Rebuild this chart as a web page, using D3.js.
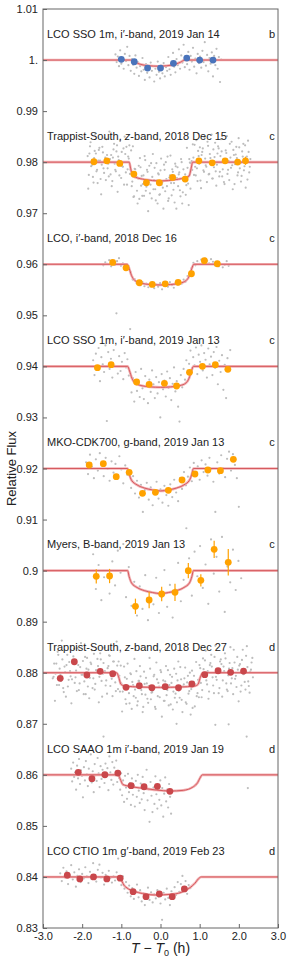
<!DOCTYPE html>
<html>
<head>
<meta charset="utf-8">
<script src="https://cdn.jsdelivr.net/npm/d3@7"></script>
<style>
  body { margin: 0; background: #fff; }
  text { font-family: "Liberation Sans", Arial, Helvetica, sans-serif; fill: #222; }
</style>
</head>
<body>
<svg id="vis_lc" width="291" height="961"></svg>
<script>
// light curves of the three planets, stacked with offsets

// panel texts, planet letter and flat level of each panel
var panelLabels = [
  "LCO SSO 1m, i\u2032-band, 2019 Jan 14",
  "Trappist-South, |z|-band, 2018 Dec 15",
  "LCO, i\u2032-band, 2018 Dec 16",
  "LCO SSO 1m, i\u2032-band, 2019 Jan 13",
  "MKO-CDK700, g-band, 2019 Jan 13",
  "Myers, B-band, 2019 Jan 13",
  "Trappist-South, |z|-band, 2018 Dec 27",
  "LCO SAAO 1m i\u2032-band, 2019 Jan 19",
  "LCO CTIO 1m g\u2032-band, 2019 Feb 23"
];
var panelPlanets = ["b", "c", "c", "c", "c", "c", "d", "d", "d"];
var panelLevels = [1.0, 0.98, 0.96, 0.94, 0.92, 0.90, 0.88, 0.86, 0.84];

var xTicks = [-3, -2, -1, 0, 1, 2, 3];
var yTicks = [0.83, 0.84, 0.85, 0.86, 0.87, 0.88, 0.89, 0.90, 0.91, 0.92, 0.93, 0.94, 0.95, 0.96, 0.97, 0.98, 0.99, 1.00, 1.01];
var yTickLabels = ["0.83", "0.84", "0.85", "0.86", "0.87", "0.88", "0.89", "0.9", "0.91", "0.92", "0.93", "0.94", "0.95", "0.96", "0.97", "0.98", "0.99", "1.", "1.01"];

// unbinned photometry [time, flux]
var rawB14 = [[-1.15,1.0011],[-1.12,0.9996],[-1.09,1.0007],[-1.06,0.9988],[-1.03,1.0019],[-1.00,0.9993],[-0.97,1.0004],[-0.94,0.9983],[-0.91,1.0012],[-0.88,0.9998],[-0.85,1.0026],[-0.82,0.9990],[-0.79,1.0008],[-0.76,0.9979],[-0.73,1.0002],[-0.70,0.9991],[-0.67,0.9973],[-0.64,1.0009],[-0.61,0.9985],[-0.58,0.9996],[-0.55,0.9969],[-0.52,0.9988],[-0.49,0.9978],[-0.46,1.0004],[-0.43,0.9981],[-0.40,0.9961],[-0.37,0.9992],[-0.34,0.9975],[-0.31,0.9986],[-0.28,0.9966],[-0.25,0.9995],[-0.22,0.9979],[-0.19,0.9988],[-0.16,0.9958],[-0.13,0.9983],[-0.10,0.9971],[-0.07,0.9997],[-0.04,0.9977],[-0.01,0.9964],[0.02,0.9989],[0.05,0.9974],[0.08,0.9994],[0.11,0.9968],[0.14,0.9986],[0.17,0.9979],[0.20,1.0006],[0.23,0.9982],[0.26,0.9971],[0.29,0.9993],[0.32,1.0014],[0.35,0.9987],[0.38,0.9976],[0.41,1.0002],[0.44,0.9990],[0.47,1.0021],[0.50,0.9983],[0.53,1.0009],[0.56,0.9995],[0.59,1.0030],[0.62,0.9986],[0.65,1.0005],[0.68,0.9992],[0.71,1.0016],[0.74,0.9981],[0.77,1.0008],[0.80,0.9997],[0.83,1.0024],[0.86,0.9987],[0.89,1.0003],[0.92,0.9974],[0.95,1.0012],[0.98,0.9994],[1.01,1.0007],[1.04,0.9985],[1.07,1.0018],[1.10,0.9996],[1.13,1.0035],[1.16,0.9989],[1.19,1.0010],[1.22,0.9978],[1.25,1.0004],[1.28,0.9993],[1.31,1.0015],[1.34,0.9968],[1.37,1.0008],[1.40,0.9990],[1.43,1.0022],[1.46,0.9983],[1.49,1.0006],[1.52,0.9957],[1.55,1.0001]];

var rawC15 = [[-1.86,0.9812],[-1.83,0.9775],[-1.80,0.9831],[-1.77,0.9792],[-1.74,0.9804],[-1.71,0.9760],[-1.68,0.9822],[-1.65,0.9817],[-1.62,0.9785],[-1.59,0.9803],[-1.56,0.9828],[-1.53,0.9767],[-1.50,0.9795],[-1.47,0.9819],[-1.44,0.9779],[-1.41,0.9809],[-1.38,0.9845],[-1.35,0.9788],[-1.32,0.9772],[-1.29,0.9806],[-1.26,0.9814],[-1.23,0.9763],[-1.20,0.9825],[-1.17,0.9797],[-1.14,0.9782],[-1.11,0.9833],[-1.08,0.9811],[-1.05,0.9774],[-1.02,0.9802],[-0.99,0.9820],[-0.96,0.9791],[-0.93,0.9756],[-0.90,0.9816],[-0.87,0.9830],[-0.84,0.9786],[-0.81,0.9807],[-0.78,0.9777],[-0.75,0.9823],[-0.72,0.9762],[-0.69,0.9732],[-0.66,0.9787],[-0.63,0.9776],[-0.60,0.9744],[-0.57,0.9768],[-0.54,0.9728],[-0.51,0.9790],[-0.48,0.9773],[-0.45,0.9757],[-0.42,0.9734],[-0.39,0.9804],[-0.36,0.9752],[-0.33,0.9781],[-0.30,0.9761],[-0.27,0.9739],[-0.24,0.9798],[-0.21,0.9771],[-0.18,0.9747],[-0.15,0.9789],[-0.12,0.9725],[-0.09,0.9764],[-0.06,0.9778],[-0.03,0.9736],[0.00,0.9784],[0.03,0.9756],[0.06,0.9750],[0.09,0.9795],[0.12,0.9743],[0.15,0.9767],[0.18,0.9811],[0.21,0.9729],[0.24,0.9774],[0.27,0.9759],[0.30,0.9786],[0.33,0.9746],[0.36,0.9721],[0.39,0.9792],[0.42,0.9769],[0.45,0.9753],[0.48,0.9780],[0.51,0.9733],[0.54,0.9800],[0.57,0.9741],[0.60,0.9763],[0.63,0.9776],[0.66,0.9755],[0.69,0.9789],[0.72,0.9716],[0.75,0.9799],[0.78,0.9798],[0.81,0.9785],[0.84,0.9809],[0.87,0.9834],[0.90,0.9774],[0.93,0.9788],[0.96,0.9822],[0.99,0.9797],[1.02,0.9764],[1.05,0.9814],[1.08,0.9827],[1.11,0.9781],[1.14,0.9807],[1.17,0.9791],[1.20,0.9840],[1.23,0.9776],[1.26,0.9816],[1.29,0.9799],[1.32,0.9768],[1.35,0.9825],[1.38,0.9810],[1.41,0.9782],[1.44,0.9795],[1.47,0.9831],[1.50,0.9772],[1.53,0.9812],[1.56,0.9821],[1.59,0.9786],[1.62,0.9761],[1.65,0.9806],[1.68,0.9818],[1.71,0.9777],[1.74,0.9802],[1.77,0.9836],[1.80,0.9789],[1.83,0.9794],[1.86,0.9824],[1.89,0.9757],[1.92,0.9815],[1.95,0.9808],[1.98,0.9780],[2.01,0.9829],[2.04,0.9798],[2.07,0.9773],[2.10,0.9811],[2.13,0.9784],[2.16,0.9833],[2.19,0.9804],[2.22,0.9766],[2.25,0.9820],[2.28,0.9791]];

var rawC15more = [[-1.845,0.9748],[-1.815,0.9817],[-1.785,0.9839],[-1.755,0.9794],[-1.725,0.9771],[-1.695,0.9808],[-1.665,0.9855],[-1.635,0.9782],[-1.605,0.9759],[-1.575,0.9824],[-1.545,0.9803],[-1.515,0.9737],[-1.485,0.9830],[-1.455,0.9788],[-1.425,0.9847],[-1.395,0.9765],[-1.365,0.9814],[-1.335,0.9797],[-1.305,0.9860],[-1.275,0.9776],[-1.245,0.9753],[-1.215,0.9809],[-1.185,0.9836],[-1.155,0.9785],[-1.125,0.9821],[-1.095,0.9742],[-1.065,0.9804],[-1.035,0.9842],[-1.005,0.9769],[-0.975,0.9792],[-0.945,0.9827],[-0.915,0.9850],[-0.885,0.9780],[-0.855,0.9756],[-0.825,0.9811],[-0.795,0.9833],[-0.765,0.9785],[-0.735,0.9753],[-0.705,0.9831],[-0.675,0.9733],[-0.645,0.9786],[-0.615,0.9771],[-0.585,0.9719],[-0.555,0.9793],[-0.525,0.9808],[-0.495,0.9754],[-0.465,0.9734],[-0.435,0.9774],[-0.405,0.9812],[-0.375,0.9744],[-0.345,0.9785],[-0.315,0.9704],[-0.285,0.9793],[-0.255,0.9756],[-0.225,0.9729],[-0.195,0.9816],[-0.165,0.9765],[-0.135,0.9747],[-0.105,0.9798],[-0.075,0.9719],[-0.045,0.9776],[-0.015,0.9737],[0.015,0.9807],[0.045,0.9760],[0.075,0.9709],[0.105,0.9785],[0.135,0.9800],[0.165,0.9753],[0.195,0.9724],[0.225,0.9770],[0.255,0.9813],[0.285,0.9735],[0.315,0.9781],[0.345,0.9759],[0.375,0.9797],[0.405,0.9709],[0.435,0.9790],[0.465,0.9776],[0.495,0.9745],[0.525,0.9806],[0.555,0.9719],[0.585,0.9786],[0.615,0.9767],[0.645,0.9736],[0.675,0.9828],[0.705,0.9758],[0.735,0.9806],[0.765,0.9748],[0.795,0.9802],[0.825,0.9835],[0.855,0.9775],[0.885,0.9791],[0.915,0.9843],[0.945,0.9763],[0.975,0.9812],[1.005,0.9829],[1.035,0.9749],[1.065,0.9820],[1.095,0.9784],[1.125,0.9848],[1.155,0.9794],[1.185,0.9761],[1.215,0.9832],[1.245,0.9777],[1.275,0.9808],[1.305,0.9854],[1.335,0.9768],[1.365,0.9790],[1.395,0.9838],[1.425,0.9754],[1.455,0.9817],[1.485,0.9827],[1.515,0.9781],[1.545,0.9845],[1.575,0.9772],[1.605,0.9803],[1.635,0.9757],[1.665,0.9823],[1.695,0.9851],[1.725,0.9785],[1.755,0.9765],[1.785,0.9809],[1.815,0.9840],[1.845,0.9747],[1.875,0.9814],[1.905,0.9796],[1.935,0.9830],[1.965,0.9774],[1.995,0.9847],[2.025,0.9788],[2.055,0.9762],[2.085,0.9821],[2.115,0.9836],[2.145,0.9792],[2.175,0.9750],[2.205,0.9811],[2.235,0.9842],[2.265,0.9780],[2.295,0.9806]];

var rawC16 = [[-1.46,0.9598],[-1.41,0.9604],[-1.36,0.9601],[-1.31,0.9608],[-1.26,0.9596],[-1.21,0.9603],[-1.16,0.9599],[-1.11,0.9606],[-1.06,0.9612],[-1.01,0.9597],[-0.96,0.9602],[-0.91,0.9594],[-0.86,0.9600],[-0.81,0.9596],[-0.76,0.9584],[-0.71,0.9570],[-0.66,0.9571],[-0.61,0.9563],[-0.56,0.9567],[-0.51,0.9559],[-0.46,0.9565],[-0.41,0.9557],[-0.36,0.9562],[-0.31,0.9555],[-0.26,0.9561],[-0.21,0.9564],[-0.16,0.9553],[-0.11,0.9560],[-0.06,0.9556],[-0.01,0.9563],[0.04,0.9551],[0.09,0.9558],[0.14,0.9562],[0.19,0.9556],[0.24,0.9565],[0.29,0.9559],[0.34,0.9554],[0.39,0.9563],[0.44,0.9560],[0.49,0.9567],[0.54,0.9562],[0.59,0.9570],[0.64,0.9566],[0.69,0.9577],[0.74,0.9582],[0.79,0.9592],[0.84,0.9603],[0.89,0.9598],[0.94,0.9606],[0.99,0.9601],[1.04,0.9609],[1.09,0.9604],[1.14,0.9611],[1.19,0.9607],[1.24,0.9602],[1.29,0.9610],[1.34,0.9605],[1.39,0.9598],[1.44,0.9603],[1.49,0.9596],[1.54,0.9601],[1.59,0.9594],[1.64,0.9599],[1.69,0.9606],[1.74,0.9597]];

var rawC13i = [[-1.72,0.9412],[-1.685,0.9383],[-1.65,0.9425],[-1.615,0.9397],[-1.58,0.9436],[-1.545,0.9371],[-1.51,0.9418],[-1.475,0.9404],[-1.44,0.9389],[-1.405,0.9441],[-1.37,0.9293],[-1.335,0.9428],[-1.30,0.9395],[-1.265,0.9415],[-1.23,0.9378],[-1.195,0.9432],[-1.16,0.9401],[-1.125,0.9504],[-1.09,0.9386],[-1.055,0.9420],[-1.02,0.9391],[-0.985,0.9409],[-0.95,0.9375],[-0.915,0.9426],[-0.88,0.9398],[-0.845,0.9414],[-0.81,0.9382],[-0.775,0.9473],[-0.74,0.9349],[-0.705,0.9377],[-0.67,0.9331],[-0.635,0.9389],[-0.60,0.9352],[-0.565,0.9368],[-0.53,0.9340],[-0.495,0.9395],[-0.46,0.9357],[-0.425,0.9336],[-0.39,0.9381],[-0.355,0.9362],[-0.32,0.9328],[-0.285,0.9374],[-0.25,0.9350],[-0.215,0.9392],[-0.18,0.9365],[-0.145,0.9338],[-0.11,0.9379],[-0.075,0.9347],[-0.04,0.9369],[-0.005,0.9300],[0.03,0.9385],[0.065,0.9355],[0.10,0.9372],[0.135,0.9341],[0.17,0.9390],[0.205,0.9358],[0.24,0.9377],[0.275,0.9334],[0.31,0.9366],[0.345,0.9398],[0.38,0.9351],[0.415,0.9371],[0.45,0.9321],[0.485,0.9292],[0.52,0.9383],[0.555,0.9359],[0.59,0.9395],[0.625,0.9374],[0.66,0.9412],[0.695,0.9388],[0.73,0.9405],[0.765,0.9431],[0.80,0.9396],[0.835,0.9418],[0.87,0.9402],[0.905,0.9437],[0.94,0.9385],[0.975,0.9423],[1.01,0.9409],[1.045,0.9441],[1.08,0.9392],[1.115,0.9426],[1.15,0.9413],[1.185,0.9378],[1.22,0.9435],[1.255,0.9404],[1.29,0.9419],[1.325,0.9383],[1.36,0.9428],[1.395,0.9397],[1.43,0.9438],[1.465,0.9365],[1.50,0.9411],[1.535,0.9389],[1.57,0.9422],[1.605,0.9354],[1.64,0.9403],[1.675,0.9338],[1.71,0.9416],[1.745,0.9391],[1.78,0.9432]];

var rawC13g = [[-1.90,0.9212],[-1.85,0.9189],[-1.80,0.9227],[-1.75,0.9203],[-1.70,0.9181],[-1.65,0.9218],[-1.60,0.9196],[-1.55,0.9230],[-1.50,0.9207],[-1.45,0.9185],[-1.40,0.9221],[-1.35,0.9199],[-1.30,0.9176],[-1.25,0.9214],[-1.20,0.9192],[-1.15,0.9209],[-1.10,0.9183],[-1.05,0.9224],[-1.00,0.9198],[-0.95,0.9171],[-0.90,0.9206],[-0.85,0.9188],[-0.80,0.9197],[-0.75,0.9162],[-0.70,0.9185],[-0.65,0.9151],[-0.60,0.9176],[-0.55,0.9143],[-0.50,0.9168],[-0.45,0.9115],[-0.40,0.9158],[-0.35,0.9172],[-0.30,0.9139],[-0.25,0.9163],[-0.20,0.9128],[-0.15,0.9150],[-0.10,0.9174],[-0.05,0.9141],[0.00,0.9159],[0.05,0.9133],[0.10,0.9166],[0.15,0.9148],[0.20,0.9127],[0.25,0.9169],[0.30,0.9144],[0.35,0.9178],[0.40,0.9153],[0.45,0.9136],[0.50,0.9181],[0.55,0.9160],[0.60,0.9193],[0.65,0.9167],[0.70,0.9184],[0.75,0.9202],[0.80,0.9175],[0.85,0.9211],[0.90,0.9189],[0.95,0.9204],[1.00,0.9178],[1.05,0.9216],[1.10,0.9193],[1.15,0.9208],[1.20,0.9186],[1.25,0.9221],[1.30,0.9199],[1.35,0.9174],[1.40,0.9115],[1.45,0.9212],[1.50,0.9190],[1.55,0.9226],[1.60,0.9201],[1.65,0.9183],[1.70,0.9219],[1.75,0.9233],[1.80,0.9196],[1.85,0.9228],[1.90,0.9207],[1.95,0.9181],[2.00,0.9125]];

var rawC13B = [[-1.72,0.9032],[-1.65,0.8964],[-1.58,0.9011],[-1.51,0.8942],[-1.44,0.8987],[-1.37,0.9046],[-1.30,0.8955],[-1.23,0.9018],[-1.16,0.8971],[-1.09,0.9039],[-1.02,0.8996],[-0.95,0.9052],[-0.88,0.8948],[-0.81,0.9007],[-0.74,0.8931],[-0.67,0.8978],[-0.60,0.8912],[-0.53,0.8969],[-0.46,0.8925],[-0.39,0.8991],[-0.32,0.8903],[-0.25,0.8958],[-0.18,0.8934],[-0.11,0.8986],[-0.04,0.8917],[0.03,0.8949],[0.10,0.9001],[0.17,0.8929],[0.24,0.8972],[0.31,0.8908],[0.38,0.8963],[0.45,0.9015],[0.52,0.8940],[0.59,0.8982],[0.66,0.9083],[0.73,0.9024],[0.80,0.8951],[0.87,0.9037],[0.94,0.8989],[1.01,0.9048],[1.08,0.8966],[1.15,0.9012],[1.22,0.8935],[1.29,0.9061],[1.36,0.8994],[1.43,0.9027],[1.50,0.8959],[1.57,0.9066],[1.64,0.8919],[1.71,0.9008],[1.78,0.8977],[1.85,0.9041],[1.92,0.8962],[1.99,0.9019],[2.06,0.8985]];

var rawD27 = [[-2.75,0.8789],[-2.715,0.8818],[-2.68,0.8798],[-2.645,0.8776],[-2.61,0.8835],[-2.575,0.8808],[-2.54,0.8784],[-2.505,0.8826],[-2.47,0.8762],[-2.435,0.8801],[-2.40,0.8815],[-2.365,0.8773],[-2.33,0.8821],[-2.295,0.8793],[-2.26,0.8787],[-2.225,0.8832],[-2.19,0.8780],[-2.155,0.8804],[-2.12,0.8848],[-2.085,0.8766],[-2.05,0.8811],[-2.015,0.8796],[-1.98,0.8823],[-1.945,0.8783],[-1.91,0.8758],[-1.875,0.8829],[-1.84,0.8806],[-1.805,0.8790],[-1.77,0.8817],[-1.735,0.8770],[-1.70,0.8837],[-1.665,0.8778],[-1.63,0.8800],[-1.595,0.8813],[-1.56,0.8792],[-1.525,0.8826],[-1.49,0.8753],[-1.455,0.8819],[-1.42,0.8803],[-1.385,0.8785],[-1.35,0.8809],[-1.315,0.8834],[-1.28,0.8774],[-1.245,0.8788],[-1.21,0.8822],[-1.175,0.8797],[-1.14,0.8764],[-1.105,0.8814],[-1.07,0.8822],[-1.035,0.8763],[-1.00,0.8779],[-0.965,0.8763],[-0.93,0.8812],[-0.895,0.8748],[-0.86,0.8788],[-0.825,0.8771],[-0.79,0.8740],[-0.755,0.8797],[-0.72,0.8782],[-0.685,0.8754],[-0.65,0.8767],[-0.615,0.8803],[-0.58,0.8744],[-0.545,0.8784],[-0.51,0.8793],[-0.475,0.8758],[-0.44,0.8733],[-0.405,0.8778],[-0.37,0.8790],[-0.335,0.8749],[-0.30,0.8774],[-0.265,0.8808],[-0.23,0.8761],[-0.195,0.8766],[-0.16,0.8796],[-0.125,0.8729],[-0.09,0.8787],[-0.055,0.8780],[-0.02,0.8752],[0.015,0.8801],[0.05,0.8770],[0.085,0.8745],[0.12,0.8783],[0.155,0.8756],[0.19,0.8805],[0.225,0.8776],[0.26,0.8738],[0.295,0.8792],[0.33,0.8763],[0.365,0.8751],[0.40,0.8798],[0.435,0.8785],[0.47,0.8765],[0.505,0.8811],[0.54,0.8747],[0.575,0.8773],[0.61,0.8789],[0.645,0.8742],[0.68,0.8781],[0.715,0.8759],[0.75,0.8800],[0.785,0.8768],[0.82,0.8731],[0.855,0.8794],[0.89,0.8777],[0.925,0.8754],[0.96,0.8786],[0.995,0.8815],[1.03,0.8780],[1.065,0.8766],[1.10,0.8807],[1.135,0.8824],[1.17,0.8785],[1.205,0.8803],[1.24,0.8763],[1.275,0.8819],[1.31,0.8812],[1.345,0.8775],[1.38,0.8831],[1.415,0.8792],[1.45,0.8804],[1.485,0.8760],[1.52,0.8822],[1.555,0.8817],[1.59,0.8785],[1.625,0.8803],[1.66,0.8828],[1.695,0.8767],[1.73,0.8795],[1.765,0.8819],[1.80,0.8779],[1.835,0.8809],[1.87,0.8845],[1.905,0.8788],[1.94,0.8772],[1.975,0.8806],[2.01,0.8814],[2.045,0.8763],[2.08,0.8825],[2.115,0.8797],[2.15,0.8782],[2.185,0.8833],[2.22,0.8811],[2.255,0.8774],[2.29,0.8802],[2.325,0.8820],[2.36,0.8791],[0.41,0.8700],[1.40,0.8698],[1.74,0.8699],[2.20,0.8675]];

var rawD27more = [[-2.73,0.8792],[-2.695,0.8745],[-2.66,0.8818],[-2.625,0.8841],[-2.59,0.8776],[-2.555,0.8797],[-2.52,0.8863],[-2.485,0.8770],[-2.45,0.8812],[-2.415,0.8753],[-2.38,0.8835],[-2.345,0.8786],[-2.31,0.8803],[-2.275,0.8740],[-2.24,0.8824],[-2.205,0.8847],[-2.17,0.8791],[-2.135,0.8764],[-2.10,0.8815],[-2.065,0.8779],[-2.03,0.8858],[-1.995,0.8796],[-1.96,0.8758],[-1.925,0.8831],[-1.89,0.8808],[-1.855,0.8773],[-1.82,0.8750],[-1.785,0.8820],[-1.75,0.8844],[-1.715,0.8789],[-1.68,0.8767],[-1.645,0.8805],[-1.61,0.8827],[-1.575,0.8742],[-1.54,0.8838],[-1.505,0.8784],[-1.47,0.8798],[-1.435,0.8849],[-1.40,0.8775],[-1.365,0.8759],[-1.33,0.8813],[-1.295,0.8833],[-1.26,0.8793],[-1.225,0.8754],[-1.19,0.8822],[-1.155,0.8781],[-1.12,0.8861],[-1.085,0.8768],[-1.05,0.8794],[-1.015,0.8814],[-0.98,0.8724],[-0.945,0.8774],[-0.91,0.8791],[-0.875,0.8739],[-0.84,0.8818],[-0.805,0.8760],[-0.77,0.8799],[-0.735,0.8729],[-0.70,0.8776],[-0.665,0.8827],[-0.63,0.8751],[-0.595,0.8736],[-0.56,0.8784],[-0.525,0.8813],[-0.49,0.8766],[-0.455,0.8723],[-0.42,0.8802],[-0.385,0.8757],[-0.35,0.8779],[-0.315,0.8741],[-0.28,0.8829],[-0.245,0.8748],[-0.21,0.8762],[-0.175,0.8793],[-0.14,0.8733],[-0.105,0.8820],[-0.07,0.8754],[-0.035,0.8773],[0.00,0.8805],[0.035,0.8714],[0.07,0.8785],[0.105,0.8745],[0.14,0.8813],[0.175,0.8766],[0.21,0.8736],[0.245,0.8796],[0.28,0.8780],[0.315,0.8728],[0.35,0.8808],[0.385,0.8759],[0.42,0.8742],[0.455,0.8822],[0.49,0.8751],[0.525,0.8787],[0.56,0.8723],[0.595,0.8777],[0.63,0.8810],[0.665,0.8739],[0.70,0.8794],[0.735,0.8764],[0.77,0.8718],[0.805,0.8804],[0.84,0.8782],[0.875,0.8734],[0.91,0.8821],[0.945,0.8760],[0.98,0.8752],[1.015,0.8809],[1.05,0.8752],[1.085,0.8828],[1.12,0.8797],[1.155,0.8843],[1.19,0.8777],[1.225,0.8749],[1.26,0.8815],[1.295,0.8835],[1.33,0.8791],[1.365,0.8760],[1.40,0.8853],[1.435,0.8786],[1.47,0.8804],[1.505,0.8770],[1.54,0.8826],[1.575,0.8753],[1.61,0.8812],[1.645,0.8838],[1.68,0.8779],[1.715,0.8764],[1.75,0.8808],[1.785,0.8850],[1.82,0.8789],[1.855,0.8758],[1.89,0.8820],[1.925,0.8794],[1.96,0.8831],[1.995,0.8744],[2.03,0.8817],[2.065,0.8775],[2.10,0.8845],[2.135,0.8798],[2.17,0.8767],[2.205,0.8852],[2.24,0.8783],[2.275,0.8761],[2.31,0.8806],[2.345,0.8829]];

var rawD19 = [[-2.28,0.8612],[-2.255,0.8587],[-2.23,0.8624],[-2.205,0.8596],[-2.18,0.8605],[-2.155,0.8571],[-2.13,0.8618],[-2.105,0.8593],[-2.08,0.8631],[-2.055,0.8582],[-2.03,0.8609],[-2.005,0.8598],[-1.98,0.8556],[-1.955,0.8615],[-1.93,0.8589],[-1.905,0.8627],[-1.88,0.8601],[-1.855,0.8578],[-1.83,0.8612],[-1.805,0.8594],[-1.78,0.8640],[-1.755,0.8585],[-1.73,0.8607],[-1.705,0.8566],[-1.68,0.8621],[-1.655,0.8599],[-1.63,0.8588],[-1.605,0.8633],[-1.58,0.8603],[-1.555,0.8576],[-1.53,0.8617],[-1.505,0.8592],[-1.48,0.8610],[-1.455,0.8675],[-1.43,0.8584],[-1.405,0.8622],[-1.38,0.8597],[-1.355,0.8613],[-1.33,0.8570],[-1.305,0.8636],[-1.28,0.8605],[-1.255,0.8590],[-1.23,0.8625],[-1.205,0.8581],[-1.18,0.8614],[-1.155,0.8599],[-1.13,0.8628],[-1.105,0.8586],[-1.08,0.8608],[-1.055,0.8594],[-1.03,0.8571],[-1.005,0.8603],[-0.98,0.8560],[-0.955,0.8589],[-0.93,0.8547],[-0.905,0.8598],[-0.88,0.8575],[-0.855,0.8553],[-0.83,0.8602],[-0.805,0.8566],[-0.78,0.8584],[-0.755,0.8541],[-0.73,0.8593],[-0.705,0.8561],[-0.68,0.8579],[-0.655,0.8538],[-0.63,0.8588],[-0.605,0.8557],[-0.58,0.8600],[-0.555,0.8569],[-0.53,0.8545],[-0.505,0.8583],[-0.48,0.8552],[-0.455,0.8596],[-0.43,0.8564],[-0.405,0.8531],[-0.38,0.8578],[-0.355,0.8610],[-0.33,0.8550],[-0.305,0.8572],[-0.28,0.8508],[-0.255,0.8586],[-0.23,0.8559],[-0.205,0.8527],[-0.18,0.8575],[-0.155,0.8543],[-0.13,0.8597],[-0.105,0.8562],[-0.08,0.8534],[-0.055,0.8580],[-0.03,0.8551],[-0.005,0.8589],[0.02,0.8540],[0.045,0.8574],[0.07,0.8518],[0.095,0.8563],[0.12,0.8595],[0.145,0.8548],[0.17,0.8571],[0.195,0.8536],[0.22,0.8582],[0.245,0.8557],[0.27,0.8524],[0.295,0.8566],[2.23,0.8574]];

var rawD23 = [[-2.56,0.8407],[-2.52,0.8392],[-2.48,0.8418],[-2.44,0.8399],[-2.40,0.8411],[-2.36,0.8386],[-2.32,0.8404],[-2.28,0.8423],[-2.24,0.8395],[-2.20,0.8409],[-2.16,0.8381],[-2.12,0.8402],[-2.08,0.8415],[-2.04,0.8390],[-2.00,0.8406],[-1.96,0.8397],[-1.92,0.8419],[-1.88,0.8401],[-1.84,0.8388],[-1.80,0.8410],[-1.76,0.8396],[-1.72,0.8427],[-1.68,0.8403],[-1.64,0.8391],[-1.60,0.8414],[-1.56,0.8424],[-1.52,0.8399],[-1.48,0.8408],[-1.44,0.8385],[-1.40,0.8404],[-1.36,0.8395],[-1.32,0.8412],[-1.28,0.8398],[-1.24,0.8389],[-1.20,0.8401],[-1.16,0.8393],[-1.12,0.8409],[-1.08,0.8436],[-1.04,0.8397],[-1.00,0.8384],[-0.96,0.8401],[-0.92,0.8377],[-0.88,0.8390],[-0.84,0.8369],[-0.80,0.8383],[-0.76,0.8362],[-0.72,0.8378],[-0.68,0.8357],[-0.64,0.8371],[-0.60,0.8385],[-0.56,0.8360],[-0.52,0.8374],[-0.48,0.8352],[-0.44,0.8368],[-0.40,0.8345],[-0.36,0.8363],[-0.32,0.8379],[-0.28,0.8355],[-0.24,0.8370],[-0.20,0.8350],[-0.16,0.8366],[-0.12,0.8358],[-0.08,0.8374],[-0.04,0.8361],[0.00,0.8348],[0.04,0.8316],[0.08,0.8369],[0.12,0.8356],[0.16,0.8377],[0.20,0.8359],[0.24,0.8345],[0.28,0.8372],[0.32,0.8361],[0.36,0.8380],[0.40,0.8365],[0.44,0.8390],[0.48,0.8371],[0.52,0.8386],[0.56,0.8402],[0.60,0.8376],[0.64,0.8392],[0.68,0.8367],[0.72,0.8384],[0.76,0.8378]];

// binned photometry [time, flux, error]
var binB14 = [[-1.00,1.00014,0.0003],[-0.67,0.99967,0.0003],[-0.33,0.99843,0.0003],[0.00,0.99843,0.0003],[0.33,0.99935,0.0003],[0.67,1.00039,0.0003],[1.00,1.0,0.0003],[1.34,1.0,0.0003]];
var binC15 = [[-1.70,0.98008,0.0004],[-1.37,0.98027,0.0004],[-1.04,0.97976,0.0004],[-0.68,0.97767,0.0004],[-0.36,0.97597,0.0004],[-0.03,0.97597,0.0004],[0.31,0.97702,0.0004],[0.63,0.97669,0.0004],[0.98,0.98027,0.0004],[1.32,0.97988,0.0004],[1.65,0.98027,0.0004],[1.97,0.98002,0.0004],[2.17,0.98027,0.0008]];
var binC16 = [[-1.22,0.96037,0.0003],[-0.88,0.95931,0.0003],[-0.54,0.95638,0.0003],[-0.21,0.95606,0.0003],[0.12,0.95618,0.0003],[0.45,0.95646,0.0003],[0.79,0.95814,0.0003],[1.12,0.96069,0.0003],[1.45,0.9601,0.0003]];
var binC13i = [[-1.61,0.93975,0.0005],[-1.26,0.94033,0.0005],[-0.61,0.93694,0.0005],[-0.29,0.93649,0.0005],[0.10,0.93669,0.0005],[0.41,0.93616,0.0005],[0.74,0.93884,0.0005],[1.07,0.94002,0.0005],[1.40,0.94033,0.0005],[1.72,0.93943,0.0005]];
var binC13g = [[-1.82,0.92069,0.0005],[-1.46,0.92094,0.0005],[-1.13,0.91839,0.0005],[-0.80,0.91926,0.0005],[-0.46,0.91514,0.0005],[-0.13,0.91534,0.0005],[0.20,0.91573,0.0005],[0.55,0.91775,0.0005],[0.88,0.91892,0.0005],[1.21,0.91971,0.0005],[1.53,0.91957,0.0005],[1.86,0.9218,0.0005]];
var binC13B = [[-1.64,0.89888,0.0014],[-1.30,0.89894,0.0014],[-0.64,0.89301,0.0015],[-0.29,0.89424,0.0016],[0.03,0.89542,0.0014],[0.37,0.89575,0.0017],[0.71,0.89998,0.0015],[1.03,0.8981,0.0012],[1.37,0.90417,0.0017],[1.73,0.90163,0.0026]];
var binD27 = [[-2.56,0.8789,0.0004],[-2.20,0.88215,0.0004],[-1.88,0.87955,0.0004],[-1.54,0.88027,0.0004],[-1.22,0.8798,0.0004],[-0.88,0.87714,0.0004],[-0.54,0.87745,0.0004],[-0.22,0.87706,0.0004],[0.12,0.87726,0.0004],[0.46,0.87706,0.0004],[0.80,0.87779,0.0004],[1.13,0.87961,0.0004],[1.47,0.88039,0.0004],[1.79,0.88008,0.0004],[2.12,0.88033,0.0004]];
var binD19 = [[-2.10,0.86049,0.0004],[-1.75,0.85924,0.0004],[-1.42,0.86002,0.0004],[-1.09,0.86035,0.0004],[-0.75,0.85787,0.0004],[-0.42,0.85767,0.0004],[-0.08,0.85775,0.0004],[0.24,0.85677,0.0004]];
var binD23 = [[-2.38,0.84033,0.0003],[-2.06,0.83961,0.0003],[-1.71,0.84,0.0003],[-1.37,0.83961,0.0003],[-1.03,0.83975,0.0003],[-0.70,0.83712,0.0003],[-0.37,0.83614,0.0003],[-0.03,0.83667,0.0003],[0.30,0.83614,0.0003],[0.61,0.83765,0.0003]];

// transit model curves [time, flux]
var modelB14 = [[-3,1],[-0.76,1],[-0.66,0.99962],[-0.52,0.99918],[-0.3,0.99888],[-0.07,0.9988],[0.16,0.99888],[0.38,0.99918],[0.52,0.99962],[0.62,1],[3,1]];
var modelC15 = [[-3,0.98],[-0.8,0.98],[-0.76,0.9787],[-0.71,0.9773],[-0.64,0.97705],[-0.4,0.9766],[0,0.97632],[0.4,0.9766],[0.66,0.97705],[0.73,0.9773],[0.78,0.9787],[0.82,0.98],[3,0.98]];
var modelC16 = [[-3,0.96],[-0.85,0.96],[-0.8,0.9592],[-0.74,0.9578],[-0.66,0.95685],[-0.5,0.9563],[-0.25,0.95603],[0,0.95595],[0.25,0.95603],[0.5,0.9563],[0.66,0.95685],[0.74,0.9578],[0.8,0.9592],[0.85,0.96],[3,0.96]];
var modelC13i = [[-3,0.94],[-0.84,0.94],[-0.79,0.9391],[-0.73,0.9377],[-0.65,0.93675],[-0.5,0.93625],[-0.25,0.93598],[0,0.9359],[0.25,0.93598],[0.5,0.93625],[0.65,0.93675],[0.73,0.9377],[0.79,0.9391],[0.84,0.94],[3,0.94]];
var modelC13g = [[-3,0.92],[-0.84,0.92],[-0.8,0.9189],[-0.74,0.9177],[-0.6,0.9168],[-0.4,0.91615],[-0.2,0.9158],[0,0.9156],[0.2,0.9158],[0.4,0.91615],[0.6,0.9168],[0.74,0.9177],[0.8,0.9189],[0.84,0.92],[3,0.92]];
var modelC13B = [[-3,0.9],[-0.84,0.9],[-0.8,0.8988],[-0.74,0.8976],[-0.6,0.8967],[-0.4,0.89605],[-0.2,0.8957],[0,0.8955],[0.2,0.8957],[0.4,0.89605],[0.6,0.8967],[0.74,0.8976],[0.8,0.8988],[0.84,0.9],[3,0.9]];
var modelD27 = [[-3,0.88],[-1.12,0.88],[-1.07,0.8792],[-1.01,0.87775],[-0.92,0.8774],[-0.5,0.8772],[0,0.87712],[0.5,0.8772],[0.88,0.8774],[0.96,0.87775],[1.02,0.8792],[1.08,0.88],[3,0.88]];
var modelD19 = [[-3,0.86],[-1.08,0.86],[-1.03,0.8592],[-0.96,0.8581],[-0.86,0.85787],[-0.44,0.85735],[-0.1,0.85702],[0.24,0.85683],[0.58,0.85696],[0.84,0.85767],[0.95,0.8585],[1.01,0.8594],[1.07,0.86],[3,0.86]];
var modelD23 = [[-3,0.84],[-1.03,0.84],[-0.98,0.8391],[-0.93,0.83835],[-0.9,0.8381],[-0.56,0.83693],[-0.14,0.83647],[0.29,0.8366],[0.63,0.83732],[0.88,0.83877],[0.97,0.83965],[1.04,0.84],[3,0.84]];

var rawSets = [rawB14, rawC15, rawC15more, rawC16, rawC13i, rawC13g, rawC13B, rawD27, rawD27more, rawD19, rawD23];
var binSets = [binB14, binC15, binC16, binC13i, binC13g, binC13B, binD27, binD19, binD23];
var modelSets = [modelB14, modelC15, modelC16, modelC13i, modelC13g, modelC13B, modelD27, modelD19, modelD23];

function vis_lightcurves() {
  var svg = d3.select("#vis_lc"),
    width = 291,
    height = 961,
    margin = {top: 9, right: 13, bottom: 33, left: 43};

  var planetColor = d3.scaleOrdinal()
    .domain(["b", "c", "d"])
    .range(["#4a74bb", "#ffa200", "#c9474b"]);

  var x = d3.scaleLinear().domain([-3, 3]).range([margin.left, width - margin.right]);
  var y = d3.scaleLinear().domain([0.83, 1.01]).range([height - margin.bottom, margin.top]);

  var line = d3.line()
    .x(function(d) { return x(d[0]); })
    .y(function(d) { return y(d[1]); })
    .curve(d3.curveMonotoneX);

  svg.append("defs").append("clipPath").attr("id", "plotclip")
    .append("rect")
      .attr("x", margin.left).attr("y", margin.top)
      .attr("width", width - margin.left - margin.right)
      .attr("height", height - margin.top - margin.bottom);

  var plot = svg.append("g").attr("clip-path", "url(#plotclip)");

  // gray unbinned points
  rawSets.forEach(function(set) {
    plot.append("g")
      .selectAll("circle")
      .data(set)
      .enter()
      .append("circle")
        .attr("cx", function(d) { return x(d[0]); })
        .attr("cy", function(d) { return y(d[1]); })
        .attr("r", 1.1)
        .attr("fill", "#bdbdbd");
  });

  // model lines (pale band + line)
  modelSets.forEach(function(set) {
    plot.append("path")
      .datum(set)
      .attr("d", line)
      .attr("fill", "none")
      .attr("stroke", "#f2b3b5")
      .attr("stroke-width", 2.6);
    plot.append("path")
      .datum(set)
      .attr("d", line)
      .attr("fill", "none")
      .attr("stroke", "#d65a5f")
      .attr("stroke-width", 1);
  });

  // binned points with error bars
  binSets.forEach(function(set, i) {
    var col = planetColor(panelPlanets[i]);
    var g = plot.append("g");
    g.selectAll("line")
      .data(set)
      .enter()
      .append("line")
        .attr("x1", function(d) { return x(d[0]); })
        .attr("x2", function(d) { return x(d[0]); })
        .attr("y1", function(d) { return y(d[1] - d[2]); })
        .attr("y2", function(d) { return y(d[1] + d[2]); })
        .attr("stroke", col)
        .attr("stroke-width", 1.2);
    g.selectAll("circle")
      .data(set)
      .enter()
      .append("circle")
        .attr("cx", function(d) { return x(d[0]); })
        .attr("cy", function(d) { return y(d[1]); })
        .attr("r", 3.4)
        .attr("fill", col);
  });

  // panel labels
  panelLabels.forEach(function(lab, i) {
    var yy = y(panelLevels[i]) - 26;
    var t = svg.append("text")
      .attr("x", margin.left + 4)
      .attr("y", yy)
      .attr("dy", "0.35em")
      .style("font-size", "11px");
    lab.split("|").forEach(function(part, k) {
      t.append("tspan").text(part).style("font-style", k % 2 === 1 ? "italic" : "normal");
    });
    svg.append("text")
      .attr("x", width - margin.right - 6)
      .attr("y", yy)
      .attr("dy", "0.35em")
      .attr("text-anchor", "middle")
      .style("font-size", "11px")
      .text(panelPlanets[i]);
  });

  // axes
  var yAxis = d3.axisLeft(y)
    .tickValues(yTicks)
    .tickFormat(function(d, i) { return yTickLabels[i]; })
    .tickSizeInner(-4).tickSizeOuter(0).tickPadding(5);
  var xAxis = d3.axisBottom(x)
    .tickValues(xTicks)
    .tickFormat(function(d) { return d.toFixed(1); })
    .tickSizeInner(-4).tickSizeOuter(0).tickPadding(4);

  var gy = svg.append("g").attr("transform", "translate(" + margin.left + ",0)").call(yAxis);
  var gx = svg.append("g").attr("transform", "translate(0," + (height - margin.bottom) + ")").call(xAxis);
  [gy, gx].forEach(function(g) {
    g.select(".domain").remove();
    g.selectAll(".tick line").attr("stroke", "#666");
    g.selectAll(".tick text").style("font-size", "11px").style("font-family", "'Liberation Sans', Arial, sans-serif").attr("fill", "#222");
  });

  // frame
  svg.append("rect")
    .attr("x", margin.left).attr("y", margin.top)
    .attr("width", width - margin.left - margin.right)
    .attr("height", height - margin.top - margin.bottom)
    .attr("fill", "none")
    .attr("stroke", "#666")
    .attr("stroke-width", 1);

  // axis titles
  svg.append("text")
    .attr("transform", "translate(11," + y(0.92) + ") rotate(-90)")
    .attr("text-anchor", "middle")
    .attr("dy", "0.35em")
    .style("font-size", "13px")
    .text("Relative Flux");

  var xt = svg.append("text")
    .attr("x", x(0))
    .attr("y", 953)
    .attr("text-anchor", "middle")
    .style("font-size", "14px");
  xt.append("tspan").style("font-style", "italic").text("T");
  xt.append("tspan").text(" \u2212 ");
  xt.append("tspan").style("font-style", "italic").text("T");
  xt.append("tspan").attr("dy", 3).style("font-size", "9px").text("0");
  xt.append("tspan").attr("dy", -3).text(" (h)");

} // end vis_lightcurves

vis_lightcurves();
</script>
</body>
</html>
